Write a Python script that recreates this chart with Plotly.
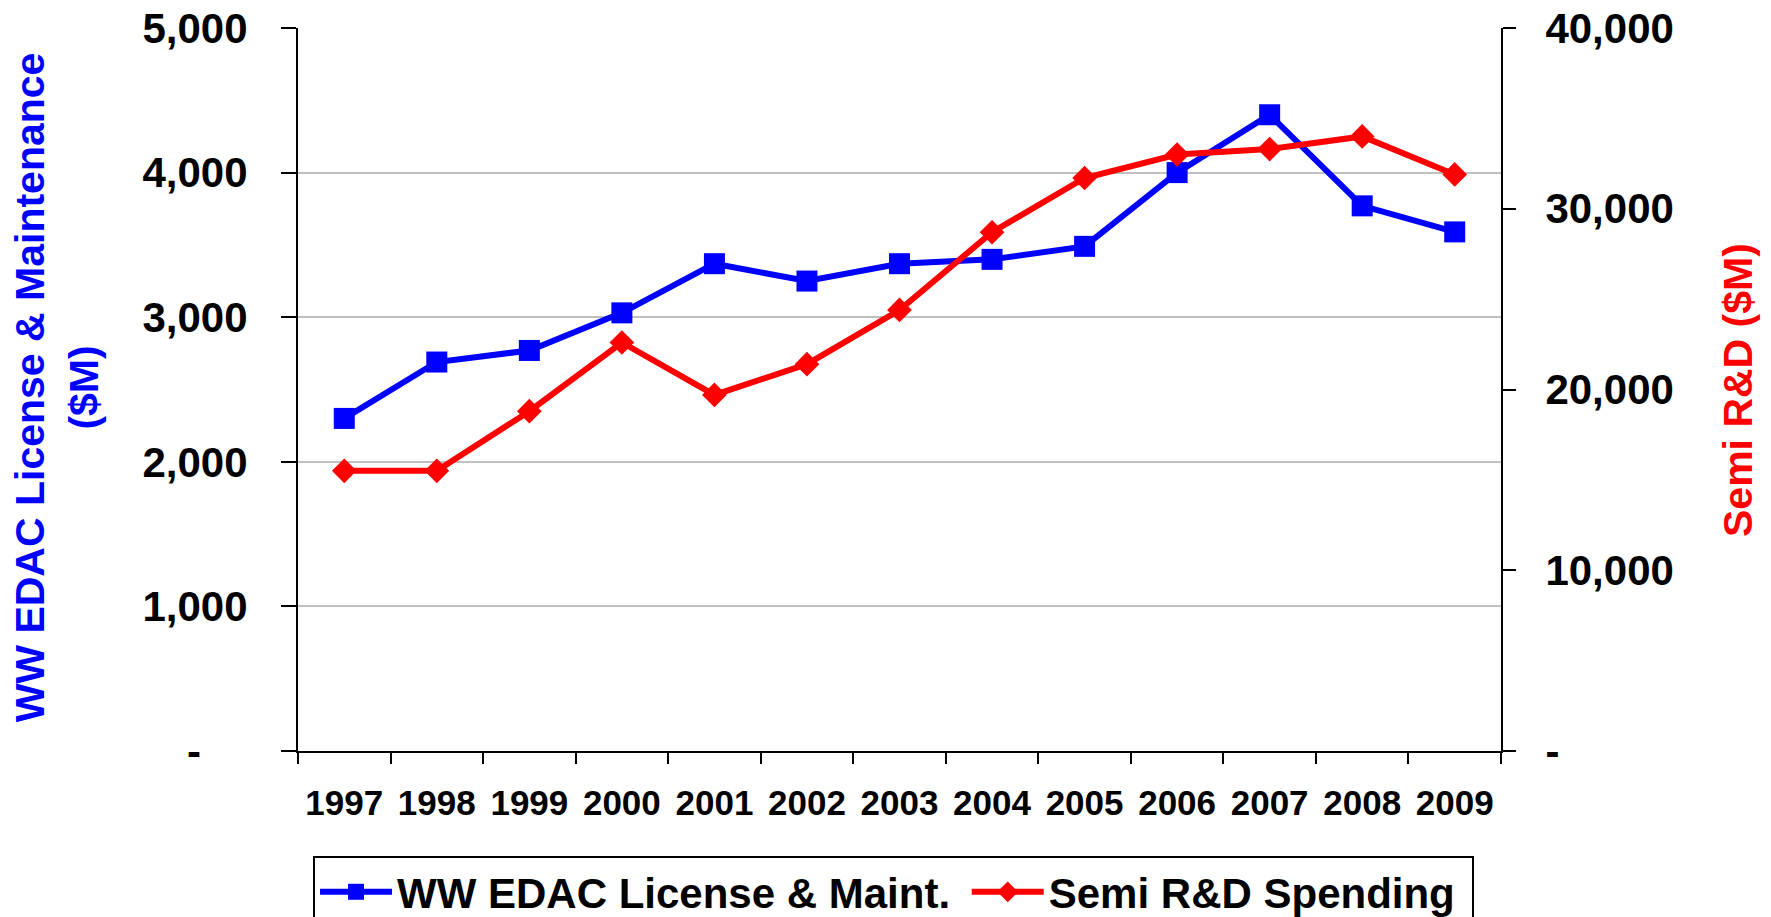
import plotly.graph_objects as go

years = ["1997", "1998", "1999", "2000", "2001", "2002", "2003",
         "2004", "2005", "2006", "2007", "2008", "2009"]
edac = [2300, 2690, 2770, 3030, 3370, 3250, 3370, 3400, 3490, 4000, 4400, 3770, 3590]
semi_rd = [15500, 15500, 18800, 22600, 19700, 21400, 24400, 28700, 31700, 33000, 33300, 34000, 31900]

left_ticks = [0, 1000, 2000, 3000, 4000, 5000]
left_labels = ["-\u00a0\u00a0\u00a0\u00a0", "1,000", "2,000", "3,000", "4,000", "5,000"]
right_ticks = [0, 10000, 20000, 30000, 40000]
right_labels = ["-", "10,000", "20,000", "30,000", "40,000"]

FONT = "Liberation Sans, Arial, Helvetica, sans-serif"
BLUE = "#0000FF"
RED = "#FF0000"
NB = "\u00a0"

fig = go.Figure()
fig.add_trace(go.Scatter(
    x=years, y=edac, name="WW EDAC License & Maint." + NB,
    mode="lines+markers",
    line=dict(color=BLUE, width=6),
    marker=dict(symbol="square", size=21, color=BLUE),
    yaxis="y",
))
fig.add_trace(go.Scatter(
    x=years, y=semi_rd, name="Semi R&D Spending" + NB,
    mode="lines+markers",
    line=dict(color=RED, width=6),
    marker=dict(symbol="diamond", size=19, color=RED),
    yaxis="y2",
))

fig.update_layout(
    width=1771, height=917,
    margin=dict(l=298, r=270, t=28, b=166, pad=0, autoexpand=False),
    paper_bgcolor="white", plot_bgcolor="white",
    font=dict(family=FONT, color="black", size=35, weight="bold"),
    showlegend=True,
    legend=dict(
        orientation="h", x=0.0125, xanchor="left", y=-0.1452, yanchor="top",
        bordercolor="black", borderwidth=2, bgcolor="white",
        font=dict(family=FONT, size=42, color="black", weight="bold"),
        itemwidth=72,
    ),
    xaxis=dict(
        type="category", range=[-0.5, 12.5],
        showline=True, linecolor="black", linewidth=2,
        ticks="outside", ticklen=11, tickwidth=2, tickcolor="black",
        tickson="boundaries", showgrid=False,
        tickfont=dict(family=FONT, size=35, color="black", weight="bold"),
        ticklabelstandoff=20, ticklabeloverflow="allow",
    ),
    yaxis=dict(
        range=[0, 5000], tickvals=left_ticks, ticktext=left_labels,
        showline=True, linecolor="black", linewidth=2,
        ticks="outside", ticklen=15, tickwidth=2, tickcolor="black",
        showgrid=True, gridcolor="#C0C0C0", gridwidth=2,
        zeroline=False,
        tickfont=dict(family=FONT, size=42, color="black", weight="bold"),
        ticklabelstandoff=25, ticklabeloverflow="allow",
    ),
    yaxis2=dict(
        range=[0, 40000], tickvals=right_ticks, ticktext=right_labels,
        overlaying="y", side="right",
        showline=True, linecolor="black", linewidth=2,
        ticks="outside", ticklen=13, tickwidth=2, tickcolor="black",
        showgrid=False, zeroline=False,
        tickfont=dict(family=FONT, size=42, color="black", weight="bold"),
        ticklabelstandoff=21, ticklabeloverflow="allow",
    ),
    annotations=[
        dict(
            text="WW EDAC License & Maintenance<br>($M)",
            xref="paper", yref="paper", x=-0.2, y=0.5035,
            xanchor="center", yanchor="middle", textangle=-90, showarrow=False,
            font=dict(family=FONT, size=41, color=BLUE, weight="bold"),
        ),
        dict(
            text="Semi R&D ($M)",
            xref="paper", yref="paper", x=1.197, y=0.4993,
            xanchor="center", yanchor="middle", textangle=-90, showarrow=False,
            font=dict(family=FONT, size=41, color=RED, weight="bold"),
        ),
    ],
)

fig.write_html("out.html", config={"displayModeBar": False},
               post_script="document.body.style.margin='0';")
